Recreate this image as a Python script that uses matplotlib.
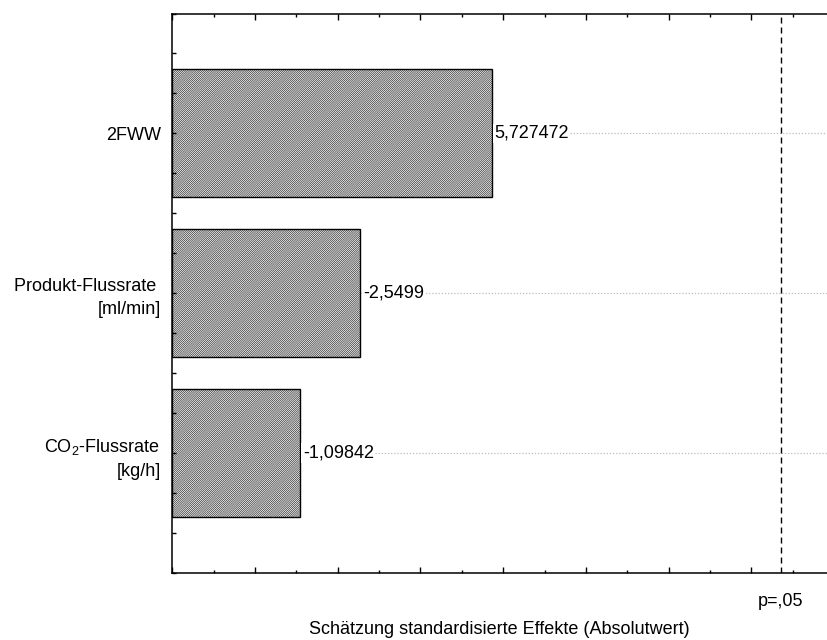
import matplotlib
matplotlib.use("Agg")
import matplotlib.pyplot as plt
from matplotlib.ticker import MultipleLocator, NullFormatter

plt.rcParams['font.family'] = ['Liberation Sans', 'DejaVu Sans']
plt.rcParams['mathtext.default'] = 'regular'
plt.rcParams['hatch.linewidth'] = 0.5
plt.rcParams['hatch.color'] = '#303030'

# Data
categories = ["2FWW", "Produkt-Flussrate \n[ml/min]", "CO$_2$-Flussrate \n[kg/h]"]
effects = [5.727472, -2.5499, -1.09842]
effect_labels = ["5,727472", "-2,5499", "-1,09842"]
p_crit = 12.706
p_label = "p=,05"
x_min, x_max = -2.0, 13.83
xlabel = "Schätzung standardisierte Effekte (Absolutwert)"

fig = plt.figure(figsize=(8.27, 6.40), dpi=100)
ax = fig.add_axes([172.3/827, 1 - 573.3/640, 1 - 172.3/827, (573.3 - 13.5)/640])
ax.set_axisbelow(False)

ypos = list(range(len(categories)))
widths = [abs(v) - x_min for v in effects]

# dotted guide lines
for y, v in zip(ypos, effects):
    ax.plot([abs(v), x_max], [y, y], color='#bdbdbd', lw=0.9, ls=(0, (1, 1.5)), zorder=1)

# hatched bars
ax.barh(ypos, widths, left=x_min, height=0.8, color='white', hatch='/' * 16,
        edgecolor='#303030', linewidth=0, zorder=1.5)
ax.barh(ypos, widths, left=x_min, height=0.8, color='none',
        edgecolor='black', linewidth=1.0, zorder=1.6)

for y, v, lab in zip(ypos, effects, effect_labels):
    ax.text(abs(v) + 0.06, y, lab, ha='left', va='center', fontsize=13, zorder=4,
            bbox=dict(facecolor='white', edgecolor='none', pad=1.0))

# significance line
ax.axvline(p_crit, color='black', lw=1.0, ls=(0, (4.3, 2.9)), zorder=3)
ax.text(p_crit, -0.036, p_label, transform=ax.get_xaxis_transform(),
        ha='center', va='top', fontsize=13)

ax.set_xlim(x_min, x_max)
ax.set_ylim(2.75, -0.75)
ax.set_yticks(ypos)
ax.set_yticklabels(categories, fontsize=13, ha='right', linespacing=1.45)
ax.yaxis.set_minor_locator(MultipleLocator(0.25))
ax.xaxis.set_major_locator(MultipleLocator(2))
ax.xaxis.set_minor_locator(MultipleLocator(1))
ax.xaxis.set_major_formatter(NullFormatter())

ax.tick_params(axis='x', which='major', direction='in', length=4, width=1.0, top=True, bottom=True)
ax.tick_params(axis='x', which='minor', direction='in', length=2, width=1.0, top=True, bottom=True)
ax.tick_params(axis='y', which='both', direction='in', length=3, width=1.0, left=True, pad=8)

ax.spines['right'].set_visible(False)
for s in ['left', 'top', 'bottom']:
    ax.spines[s].set_linewidth(1.1)

ax.set_xlabel(xlabel, fontsize=13, labelpad=31)

fig.savefig("out.png", dpi=100)
